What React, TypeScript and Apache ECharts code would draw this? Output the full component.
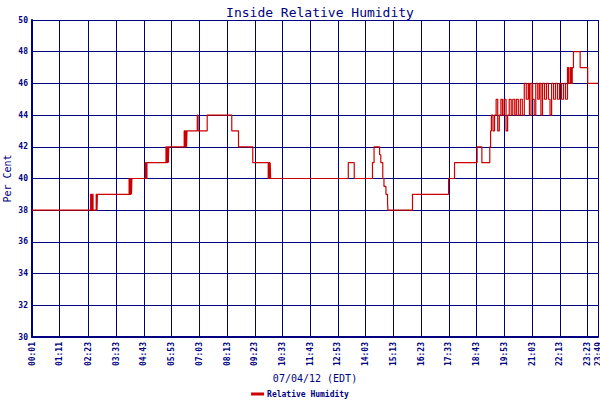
import * as echarts from "echarts";
import { useEffect, useRef } from "react";

const tickLabels = [
  "00:01", "01:11", "02:23", "03:33", "04:43", "05:53", "07:03", "08:13", "09:23", "10:33", "11:43",
  "12:53", "14:03", "15:13", "16:23", "17:33", "18:43", "19:53", "21:03", "22:13", "23:23", "23:49",
];

// change points: each value holds until the next time
const times = [
  "00:01", "02:29", "02:31", "02:33", "02:35", "02:43", "02:45", "02:46",
  "04:06", "04:08", "04:10", "04:12", "04:13", "04:47", "04:49", "04:51",
  "05:39", "05:41", "05:43", "05:45", "05:46", "06:25", "06:27", "06:29", "06:31", "06:32",
  "06:58", "07:00", "07:23", "08:25", "08:42", "09:18", "09:57", "09:59", "10:01", "10:02", "10:03",
  "13:19", "13:34", "14:20", "14:24", "14:38", "14:41", "14:46", "14:49", "14:54", "14:58", "14:59",
  "16:01", "17:32", "17:47", "18:44", "18:56", "19:16", "19:18", "19:20",
  "19:24", "19:28", "19:32", "19:36", "19:40", "19:44", "19:48", "19:52", "19:57", "20:01",
  "20:05", "20:10", "20:14", "20:19", "20:23", "20:28", "20:33", "20:38", "20:43", "20:48",
  "20:53", "20:56", "21:00", "21:04", "21:08", "21:12", "21:17", "21:21", "21:25", "21:29",
  "21:34", "21:39", "21:44", "21:48", "21:52", "21:57", "22:02", "22:07", "22:12", "22:17",
  "22:22", "22:27", "22:32", "22:35", "22:39", "22:42", "22:44", "22:47", "23:04", "23:23", "23:49",
];
const humidity = [
  38, 39, 38, 39, 38, 39, 38, 39,
  40, 39, 40, 39, 40, 41, 40, 41,
  42, 41, 42, 41, 42, 43, 42, 43, 42, 43,
  44, 43, 44, 43, 42, 41, 40, 41, 40, 41, 40,
  41, 40, 41, 42, 41.5, 41, 40, 39.5, 39, 38.5, 38,
  39, 40, 41, 42, 41, 42, 43, 44,
  43, 44, 45, 43, 44, 45, 44, 45, 43, 44,
  45, 44, 45, 44, 45, 44, 45, 44, 46, 45,
  46, 44, 46, 45, 44, 46, 45, 46, 44, 46,
  45, 46, 45, 44, 46, 45, 46, 45, 46, 45,
  46, 45, 47, 46, 47, 46, 47, 48, 47, 46, 46,
];

const toMinutes = (s: string) => {
  const [h, m] = s.split(":").map(Number);
  return h * 60 + m;
};

const NAVY = "#000080";
const MONO = "'DejaVu Sans Mono', 'Liberation Mono', monospace";

const App = () => {
  const chartRef = useRef<HTMLDivElement>(null);

  useEffect(() => {
    document.body.style.margin = "0";
    if (!chartRef.current) return;
    const myChart = echarts.init(chartRef.current, null, { renderer: "svg" });
    const tickMinutes = tickLabels.map(toMinutes);

    const option = {
      animation: false,
      backgroundColor: "#ffffff",
      title: {
        text: "Inside Relative Humidity",
        left: 315,
        textAlign: "center",
        top: 1,
        textStyle: { color: NAVY, fontFamily: MONO, fontSize: 13, fontWeight: "normal" },
      },
      legend: {
        data: ["Relative Humidity"],
        left: "center",
        top: 388,
        padding: 2,
        icon: "rect",
        itemWidth: 13,
        itemHeight: 3,
        itemGap: 4,
        textStyle: { color: NAVY, fontFamily: MONO, fontSize: 8, fontWeight: "bold", padding: [0, 0, 0, -2] },
      },
      grid: { left: 32, right: 2, top: 20, bottom: 63, outerBoundsMode: "none", containLabel: false },
      xAxis: {
        type: "value",
        min: tickMinutes[0],
        max: tickMinutes[tickMinutes.length - 1],
        name: "07/04/12 (EDT)",
        nameLocation: "middle",
        nameGap: 36,
        nameTextStyle: { color: NAVY, fontFamily: MONO, fontSize: 10 },
        axisLine: { show: true, onZero: false, lineStyle: { color: NAVY, width: 2 } },
        axisTick: { show: false, customValues: tickMinutes },
        splitLine: { show: true, lineStyle: { color: NAVY, width: 1 } },
        axisLabel: {
          customValues: tickMinutes,
          rotate: 90,
          margin: 5,
          color: NAVY,
          fontFamily: MONO,
          fontSize: 8,
          fontWeight: "bold",
          formatter: (v: number) => tickLabels[tickMinutes.indexOf(v)] ?? "",
        },
      },
      yAxis: {
        type: "value",
        min: 30,
        max: 50,
        interval: 2,
        name: "Per Cent",
        nameLocation: "middle",
        nameRotate: 90,
        nameGap: 20,
        nameMoveOverlap: false,
        nameTextStyle: { color: NAVY, fontFamily: MONO, fontSize: 10 },
        axisLine: { show: true, lineStyle: { color: NAVY, width: 2 } },
        axisTick: { show: false },
        splitLine: { show: true, lineStyle: { color: NAVY, width: 1 } },
        axisLabel: { color: NAVY, fontFamily: MONO, fontSize: 8, fontWeight: "bold", margin: 4 },
      },
      series: [
        {
          name: "Relative Humidity",
          type: "line",
          step: "end",
          showSymbol: false,
          symbol: "none",
          itemStyle: { color: "#cc0000" },
          lineStyle: { color: "#cc0000", width: 1.2 },
          data: times.map((t, i) => [toMinutes(t), humidity[i]]),
        },
      ],
    };

    myChart.setOption(option);

    return () => {
      myChart.dispose();
    };
  }, []);

  return <div ref={chartRef} style={{ width: 600, height: 400 }} />;
};

export default App;
